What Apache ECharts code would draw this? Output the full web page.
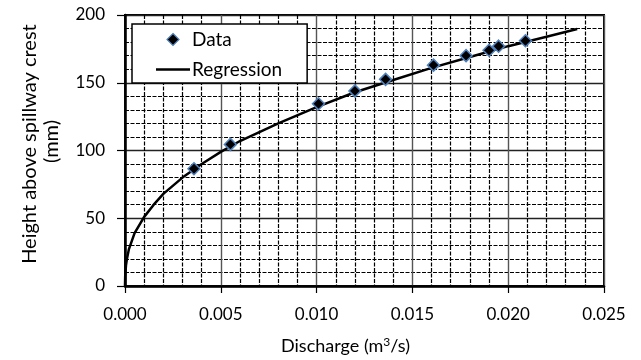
<!DOCTYPE html>
<html>
<head>
<meta charset="utf-8">
<script src="https://cdn.jsdelivr.net/npm/echarts@6/dist/echarts.min.js"></script>
<style>
html,body{margin:0;padding:0;background:#fff;}
#chart{width:641px;height:360px;}
</style>
</head>
<body>
<div id="chart"></div>
<script>
// Measured data points: discharge (m3/s) and height (mm)
var dataQ = [0.0036, 0.0055, 0.0101, 0.0120, 0.0136, 0.0161, 0.0178, 0.0190, 0.0195, 0.0209];
var dataH = [86.5, 104.5, 134.5, 144, 152.5, 163, 170, 174, 177, 181];
// Regression curve points
var regQ = [0, 0.00001, 0.00005, 0.0001, 0.0002, 0.0005, 0.001, 0.0015, 0.002, 0.003, 0.004, 0.005, 0.006, 0.008, 0.010, 0.012, 0.014, 0.016, 0.018, 0.020, 0.022, 0.0236];
var regH = [0, 7, 15, 20, 27, 39, 51, 60, 68, 80, 90, 99, 107, 120, 132, 143, 152, 161, 169, 177, 184, 189.7];
var xTicks = [0, 0.005, 0.010, 0.015, 0.020, 0.025];
var yTicks = [0, 50, 100, 150, 200];

var FONT = 'Lato';
var chart = echarts.init(document.getElementById('chart'), null, {renderer: 'canvas'});
var option = {
  animation: false,
  backgroundColor: '#fff',
  textStyle: {fontFamily: FONT},
  grid: {left: 125, right: 37, top: 15, bottom: 72, show: true, borderColor: '#000', borderWidth: 2, backgroundColor: 'transparent'},
  legend: {
    left: 132, top: 24, orient: 'vertical',
    backgroundColor: '#fff', borderColor: '#000', borderWidth: 1.5, borderRadius: 0,
    padding: [6, 25, 4, 24], itemGap: 11, itemWidth: 34, itemHeight: 12,
    symbolKeepAspect: true,
    textStyle: {fontFamily: FONT, fontSize: 19, color: '#000', padding: [0,0,0,-3]},
    data: [
      {name: 'Data', icon: 'path://M5,0 L10,5 L5,10 L0,5 Z', symbolKeepAspect: true,
       itemStyle: {color: '#000', borderColor: '#4f81bd', borderWidth: 1.2}},
      {name: 'Regression', icon: 'path://M0,0 L34,0 L34,2.6 L0,2.6 Z', symbolKeepAspect: true,
       itemStyle: {color: '#000', borderWidth: 0}}
    ]
  },
  xAxis: {
    type: 'value', min: xTicks[0], max: xTicks[xTicks.length-1], interval: 0.005,
    name: 'Discharge (m{sup|3}/s)', nameLocation: 'middle', nameGap: 50,
    nameTextStyle: {fontFamily: FONT, fontSize: 18, color: '#000', padding: [0, 38, 0, 0],
      rich: {sup: {fontFamily: FONT, fontSize: 12, color: '#000', verticalAlign: 'top', padding: [0,0,8,0]}}},
    axisLine: {show: true, onZero: false, lineStyle: {color: '#000', width: 2.5}},
    axisTick: {show: true, inside: false, length: 7, lineStyle: {color: '#000', width: 1.2}},
    axisLabel: {margin: 20, fontFamily: FONT, fontSize: 17, color: '#000', formatter: function(v){return v.toFixed(3);}},
    splitLine: {show: true, lineStyle: {color: '#555', width: 1.4, type: 'solid'}},
    minorTick: {show: false, splitNumber: 5},
    minorSplitLine: {show: true, lineStyle: {color: '#000', width: 1.2, type: [4, 1.5]}}
  },
  yAxis: {
    type: 'value', min: yTicks[0], max: yTicks[yTicks.length-1], interval: 50,
    name: 'Height above spillway crest \n(mm)', nameLocation: 'middle', nameGap: 62, nameRotate: 90,
    nameTextStyle: {fontFamily: FONT, fontSize: 20, color: '#000', lineHeight: 22, align: 'center', padding: [0,0,0,18]},
    axisLine: {show: true, onZero: false, lineStyle: {color: '#000', width: 2.5}},
    axisTick: {show: true, inside: false, length: 8, lineStyle: {color: '#000', width: 1.2}},
    axisLabel: {margin: 20, fontFamily: FONT, fontSize: 17, color: '#000'},
    splitLine: {show: true, lineStyle: {color: '#222', width: 1.4, type: 'solid'}},
    minorTick: {show: false, splitNumber: 5},
    minorSplitLine: {show: true, lineStyle: {color: '#000', width: 1.2, type: [4, 1.5]}}
  },
  series: [
    {
      name: 'Regression', type: 'line', showSymbol: false, symbol: 'none', smooth: false, z: 3,
      lineStyle: {color: '#000', width: 2.5}, itemStyle: {color: '#000'},
      data: regQ.map(function(q, i){ return [q, regH[i]]; })
    },
    {
      name: 'Data', type: 'scatter', symbol: 'diamond', symbolSize: 12, z: 5,
      itemStyle: {color: '#000', borderColor: '#4f81bd', borderWidth: 1.5, opacity: 1},
      data: dataQ.map(function(q, i){ return [q, dataH[i]]; })
    }
  ]
};
chart.setOption(option);
</script>
</body>
</html>
